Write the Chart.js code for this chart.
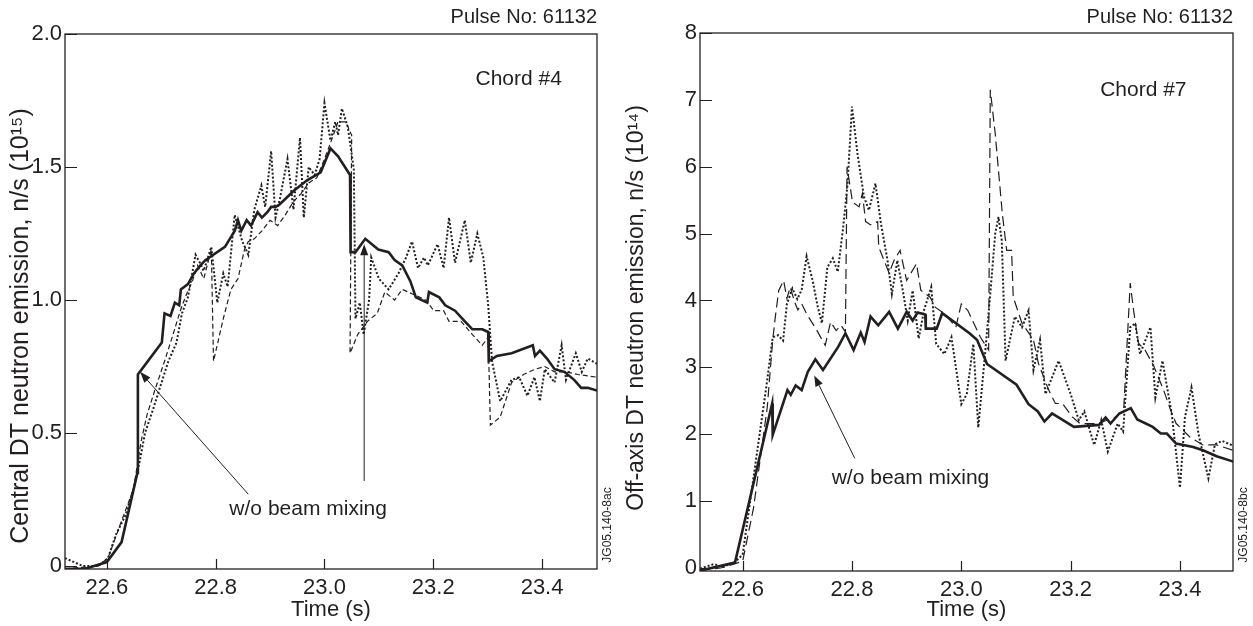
<!DOCTYPE html>
<html lang="en">
<head>
<meta charset="UTF-8">
<title>Pulse No: 61132</title>
<script src="https://cdn.jsdelivr.net/npm/chart.js"></script>
<style>
  html, body { margin: 0; background: #fff; }
  body { width: 1253px; height: 626px; position: relative; overflow: hidden; }
  canvas { position: absolute; top: 0; }
  #chord4 { left: 0; }
  #chord7 { left: 620px; }
</style>
</head>
<body>
<canvas id="chord4" width="620" height="626"></canvas>
<canvas id="chord7" width="633" height="626"></canvas>
<script>
const INK = '#231f20';
const FONT = '"Liberation Sans", Arial, sans-serif';

// time axis ticks (s)
const timeTicks = [22.6, 22.8, 23.0, 23.2, 23.4];
const chord4Ticks = [0, 0.5, 1.0, 1.5, 2.0];
const chord7Ticks = [0, 1, 2, 3, 4, 5, 6, 7, 8];

// Chord #4, central, 10^15 n/s  [time, value]
const chord4Solid = [[22.523,-0.01],[22.56,-0.01],[22.60,0.015],[22.627,0.09],[22.656,0.35],[22.657,0.72],[22.701,0.84],[22.706,0.95],[22.717,0.94],[22.725,0.99],[22.733,0.98],[22.736,1.04],[22.749,1.06],[22.760,1.10],[22.772,1.13],[22.781,1.15],[22.817,1.20],[22.835,1.26],[22.841,1.30],[22.847,1.26],[22.857,1.30],[22.865,1.28],[22.877,1.33],[22.885,1.31],[22.895,1.33],[22.902,1.35],[22.910,1.35],[22.918,1.36],[22.943,1.41],[22.968,1.45],[22.993,1.48],[23.011,1.57],[23.025,1.54],[23.047,1.47],[23.048,1.18],[23.057,1.18],[23.075,1.23],[23.099,1.19],[23.118,1.18],[23.129,1.15],[23.143,1.13],[23.158,1.07],[23.168,1.01],[23.189,0.99],[23.192,1.03],[23.211,1.01],[23.222,0.98],[23.240,0.96],[23.258,0.92],[23.272,0.89],[23.290,0.89],[23.301,0.88],[23.302,0.77],[23.317,0.79],[23.344,0.80],[23.383,0.83],[23.387,0.79],[23.396,0.81],[23.409,0.78],[23.423,0.74],[23.441,0.73],[23.459,0.70],[23.472,0.67],[23.484,0.67],[23.501,0.66]];
const chord4Dotted = [[22.523,0.03],[22.556,0.0],[22.584,0.0],[22.602,0.03],[22.617,0.12],[22.634,0.19],[22.649,0.29],[22.660,0.39],[22.670,0.50],[22.685,0.59],[22.699,0.68],[22.713,0.77],[22.728,0.84],[22.738,0.95],[22.749,1.01],[22.763,1.17],[22.771,1.14],[22.778,1.11],[22.792,1.20],[22.803,0.99],[22.814,1.10],[22.822,1.05],[22.835,1.32],[22.849,1.22],[22.860,1.17],[22.871,1.34],[22.884,1.43],[22.891,1.35],[22.902,1.56],[22.910,1.31],[22.918,1.38],[22.932,1.53],[22.943,1.34],[22.955,1.61],[22.962,1.31],[22.971,1.50],[22.982,1.47],[22.991,1.53],[23.000,1.74],[23.011,1.60],[23.020,1.67],[23.025,1.62],[23.032,1.72],[23.043,1.65],[23.054,1.49],[23.057,0.93],[23.065,0.99],[23.072,0.87],[23.082,1.00],[23.086,1.16],[23.100,1.08],[23.118,1.04],[23.136,1.10],[23.150,1.16],[23.161,1.22],[23.172,1.12],[23.183,1.16],[23.190,1.13],[23.208,1.21],[23.219,1.12],[23.229,1.31],[23.240,1.14],[23.258,1.30],[23.269,1.14],[23.281,1.25],[23.292,1.16],[23.301,0.98],[23.308,0.77],[23.323,0.62],[23.344,0.70],[23.358,0.71],[23.373,0.64],[23.386,0.71],[23.396,0.62],[23.405,0.74],[23.423,0.69],[23.436,0.83],[23.444,0.70],[23.462,0.80],[23.473,0.73],[23.484,0.78],[23.501,0.76]];
const chord4Dashed = [[22.523,-0.01],[22.584,0.0],[22.602,0.03],[22.627,0.17],[22.649,0.29],[22.663,0.47],[22.674,0.57],[22.688,0.66],[22.706,0.77],[22.720,0.86],[22.735,0.96],[22.746,1.02],[22.757,1.07],[22.767,1.13],[22.778,1.08],[22.792,1.19],[22.796,0.77],[22.814,0.93],[22.828,1.04],[22.841,1.08],[22.853,1.19],[22.860,1.22],[22.871,1.23],[22.885,1.26],[22.900,1.30],[22.914,1.28],[22.928,1.32],[22.943,1.37],[22.957,1.40],[22.971,1.44],[22.986,1.46],[23.000,1.53],[23.011,1.59],[23.025,1.67],[23.039,1.67],[23.050,1.62],[23.047,0.80],[23.061,0.87],[23.079,0.92],[23.097,0.95],[23.111,1.03],[23.129,1.00],[23.143,1.04],[23.165,1.02],[23.186,1.00],[23.201,0.96],[23.219,0.96],[23.229,0.92],[23.251,0.92],[23.272,0.87],[23.290,0.83],[23.301,0.86],[23.305,0.53],[23.323,0.56],[23.344,0.69],[23.366,0.72],[23.387,0.74],[23.405,0.75],[23.423,0.73],[23.444,0.73],[23.466,0.72],[23.501,0.71]];

// Chord #7, off-axis, 10^14 n/s  [time, value]
const chord7Solid = [[22.522,-0.04],[22.586,0.08],[22.654,2.46],[22.655,1.99],[22.682,2.66],[22.688,2.59],[22.697,2.73],[22.708,2.66],[22.719,2.93],[22.733,3.12],[22.747,2.96],[22.775,3.31],[22.788,3.51],[22.803,3.26],[22.816,3.52],[22.823,3.38],[22.834,3.76],[22.848,3.63],[22.868,3.83],[22.884,3.58],[22.900,3.83],[22.911,3.70],[22.920,3.82],[22.934,3.79],[22.935,3.58],[22.955,3.58],[22.965,3.81],[23.015,3.51],[23.029,3.41],[23.047,3.05],[23.101,2.74],[23.123,2.45],[23.140,2.34],[23.152,2.19],[23.166,2.31],[23.206,2.11],[23.252,2.14],[23.264,2.25],[23.273,2.16],[23.289,2.31],[23.310,2.39],[23.322,2.22],[23.350,2.11],[23.365,2.01],[23.376,2.01],[23.393,1.86],[23.424,1.81],[23.442,1.76],[23.467,1.67],[23.498,1.59]];
const chord7Dotted = [[22.522,-0.01],[22.548,0.06],[22.563,0.01],[22.586,0.09],[22.60,0.2],[22.645,2.81],[22.655,3.45],[22.665,3.48],[22.674,3.40],[22.681,3.95],[22.691,4.18],[22.700,4.02],[22.708,4.16],[22.717,4.66],[22.728,4.30],[22.737,3.92],[22.745,3.66],[22.755,4.50],[22.765,4.63],[22.774,4.43],[22.784,5.10],[22.792,5.75],[22.800,6.90],[22.810,6.20],[22.822,5.55],[22.831,5.35],[22.843,5.75],[22.853,5.15],[22.865,4.60],[22.873,4.10],[22.883,4.60],[22.893,4.15],[22.902,3.70],[22.911,4.15],[22.922,3.43],[22.932,3.86],[22.945,4.20],[22.954,3.35],[22.969,3.20],[22.982,3.45],[23.000,2.45],[23.010,2.60],[23.022,3.35],[23.031,2.10],[23.044,3.25],[23.053,4.10],[23.062,5.00],[23.068,5.25],[23.074,4.90],[23.081,3.10],[23.098,3.76],[23.111,3.60],[23.123,3.85],[23.132,2.96],[23.144,3.41],[23.154,2.60],[23.178,3.10],[23.200,2.60],[23.215,2.21],[23.225,2.34],[23.243,1.84],[23.256,2.21],[23.268,1.74],[23.286,2.16],[23.296,2.04],[23.309,3.60],[23.318,3.66],[23.327,3.20],[23.346,3.60],[23.355,2.55],[23.368,3.10],[23.385,2.30],[23.400,1.20],[23.409,2.25],[23.421,2.70],[23.434,2.00],[23.452,1.34],[23.464,1.85],[23.477,1.90],[23.497,1.83]];
const chord7Dashed = [[22.522,-0.03],[22.56,0.0],[22.60,0.1],[22.62,0.9],[22.645,2.4],[22.655,3.41],[22.660,3.77],[22.666,4.15],[22.675,4.30],[22.681,4.03],[22.687,4.20],[22.695,3.98],[22.701,3.86],[22.708,3.95],[22.717,3.80],[22.736,3.55],[22.751,3.33],[22.761,3.68],[22.771,3.55],[22.780,3.63],[22.788,3.53],[22.791,6.00],[22.801,5.47],[22.813,5.40],[22.819,5.60],[22.825,5.18],[22.834,5.13],[22.847,5.18],[22.849,4.80],[22.868,4.41],[22.877,4.60],[22.888,4.75],[22.900,4.30],[22.918,4.55],[22.926,4.15],[22.943,4.05],[22.952,3.90],[22.970,3.80],[22.990,3.60],[23.000,3.95],[23.012,3.85],[23.035,3.45],[23.050,3.26],[23.053,7.15],[23.062,6.50],[23.075,5.30],[23.083,4.75],[23.092,4.75],[23.095,4.05],[23.111,3.66],[23.132,3.41],[23.141,3.06],[23.160,2.66],[23.172,2.46],[23.185,2.46],[23.203,2.26],[23.217,2.16],[23.248,2.16],[23.279,2.24],[23.297,2.36],[23.309,4.26],[23.315,3.86],[23.324,3.36],[23.336,3.26],[23.352,3.02],[23.370,2.66],[23.383,2.36],[23.393,2.16],[23.418,1.96],[23.442,1.84],[23.467,1.84],[23.497,1.76]];

// annotation anchors in data units: [tailX, tailY, headX, headY]
const chord4Arrows = [[22.86, 0.27, 22.661, 0.73], [23.073, 0.32, 23.073, 1.21]];
const chord7Arrows = [[22.805, 1.64, 22.731, 2.88]];

function series(points, width, dash) {
  return {
    data: points.map(p => ({ x: p[0], y: p[1] })),
    borderColor: INK, borderWidth: width, borderDash: dash,
    pointRadius: 0, tension: 0, fill: false, borderJoinStyle: 'miter'
  };
}

function arrow(ctx, x1, y1, x2, y2) {
  const ang = Math.atan2(y2 - y1, x2 - x1), len = 11, hw = 4;
  const bx = x2 - len * Math.cos(ang), by = y2 - len * Math.sin(ang);
  ctx.beginPath(); ctx.moveTo(x1, y1); ctx.lineTo(bx, by); ctx.stroke();
  ctx.beginPath();
  ctx.moveTo(x2, y2);
  ctx.lineTo(bx + hw * Math.sin(ang), by - hw * Math.cos(ang));
  ctx.lineTo(bx - hw * Math.sin(ang), by + hw * Math.cos(ang));
  ctx.closePath(); ctx.fill();
}

const decor = {
  id: 'decor',
  afterDatasetsDraw(chart, args, o) {
    const { ctx, chartArea: a, scales: { x, y } } = chart;
    ctx.save();
    ctx.strokeStyle = INK; ctx.fillStyle = INK;
    ctx.lineWidth = 1.3;
    ctx.strokeRect(a.left, a.top, a.right - a.left, a.bottom - a.top);
    // inward tick marks
    ctx.lineWidth = 1.2;
    ctx.beginPath();
    y.ticks.forEach(t => {
      const py = Math.round(y.getPixelForValue(t.value)) + 0.5;
      ctx.moveTo(a.left, py); ctx.lineTo(a.left + 12, py);
    });
    x.ticks.forEach(t => {
      const px = Math.round(x.getPixelForValue(t.value)) + 0.5;
      ctx.moveTo(px, a.bottom); ctx.lineTo(px, a.bottom - 10);
    });
    ctx.stroke();

    ctx.lineWidth = 1;
    o.arrows.forEach(r => arrow(ctx, x.getPixelForValue(r[0]), y.getPixelForValue(r[1]),
                                     x.getPixelForValue(r[2]), y.getPixelForValue(r[3])));

    ctx.textBaseline = 'middle';
    ctx.font = '21px ' + FONT;
    ctx.textAlign = 'center';
    ctx.fillText(o.chord, x.getPixelForValue(o.chordAt[0]), y.getPixelForValue(o.chordAt[1]));
    ctx.fillText('w/o beam mixing', x.getPixelForValue(o.noteAt[0]), y.getPixelForValue(o.noteAt[1]));
    ctx.font = '22px ' + FONT;
    ctx.fillText('Time (s)', (a.left + a.right) / 2, 610);

    ctx.font = '20px ' + FONT;
    ctx.textAlign = 'right';
    ctx.fillText('Pulse No: 61132', a.right, 17);

    ctx.save();
    ctx.translate(o.titleX, o.titleY);
    ctx.rotate(-Math.PI / 2);
    ctx.font = o.titleSize + 'px ' + FONT;
    ctx.textAlign = 'center';
    ctx.fillText(o.title, 0, 0);
    ctx.restore();

    ctx.save();
    ctx.translate(a.right + 11, 525);
    ctx.rotate(-Math.PI / 2);
    ctx.font = '12px ' + FONT;
    ctx.textAlign = 'center';
    ctx.fillText(o.stamp, 0, 0);
    ctx.restore();
    ctx.restore();
  }
};

function build(id, c) {
  return new Chart(document.getElementById(id), {
    type: 'line',
    data: { datasets: [series(c.solid, 2.6, []), series(c.dotted, 2, [2, 2]), series(c.dashed, 1.2, c.dash)] },
    options: {
      responsive: false,
      animation: false,
      layout: { padding: { top: c.top, right: c.right, left: 0, bottom: 0 } },
      plugins: { legend: { display: false }, tooltip: { enabled: false }, decor: c.decor },
      scales: {
        x: {
          type: 'linear', min: c.xMin, max: c.xMax,
          afterBuildTicks: s => { s.ticks = timeTicks.map(v => ({ value: v })); },
          afterFit: s => { s.height = c.xAxisH; },
          grid: { display: false, drawTicks: false }, border: { display: false },
          ticks: { color: INK, font: { family: FONT, size: 22 }, padding: 6, maxRotation: 0, autoSkip: false,
                   callback: v => v.toFixed(1) }
        },
        y: {
          min: c.yMin, max: c.yMax,
          afterBuildTicks: s => { s.ticks = c.yTicks.map(v => ({ value: v })); },
          afterFit: s => { s.width = c.yAxisW; },
          grid: { display: false, drawTicks: false }, border: { display: false },
          ticks: { color: INK, font: { family: FONT, size: 22 }, padding: 3, autoSkip: false,
                   callback: c.yFmt }
        }
      }
    },
    plugins: [decor]
  });
}

build('chord4', {
  solid: chord4Solid, dotted: chord4Dotted, dashed: chord4Dashed, dash: [5, 3],
  xMin: 22.523, xMax: 23.501, yMin: -0.011, yMax: 2.0, yTicks: chord4Ticks,
  yFmt: v => v === 0 ? '0' : v.toFixed(1),
  top: 34, right: 23, yAxisW: 65, xAxisH: 57,
  decor: { arrows: chord4Arrows, chord: 'Chord #4', chordAt: [23.357, 1.83], noteAt: [22.97, 0.214],
           title: 'Central DT neutron emission, n/s (10\u00b9\u2075)', titleSize: 25, titleX: 21, titleY: 326,
           stamp: 'JG05.140-8ac' }
});

build('chord7', {
  solid: chord7Solid, dotted: chord7Dotted, dashed: chord7Dashed, dash: [10, 5],
  xMin: 22.522, xMax: 23.497, yMin: -0.045, yMax: 8, yTicks: chord7Ticks,
  yFmt: v => String(v),
  top: 33, right: 20, yAxisW: 80, xAxisH: 55,
  decor: { arrows: chord7Arrows, chord: 'Chord #7', chordAt: [23.333, 7.14], noteAt: [22.907, 1.34],
           title: 'Off-axis DT neutron emission, n/s (10\u00b9\u2074)', titleSize: 23, titleX: 17, titleY: 308,
           stamp: 'JG05.140-8bc' }
});
</script>
</body>
</html>
